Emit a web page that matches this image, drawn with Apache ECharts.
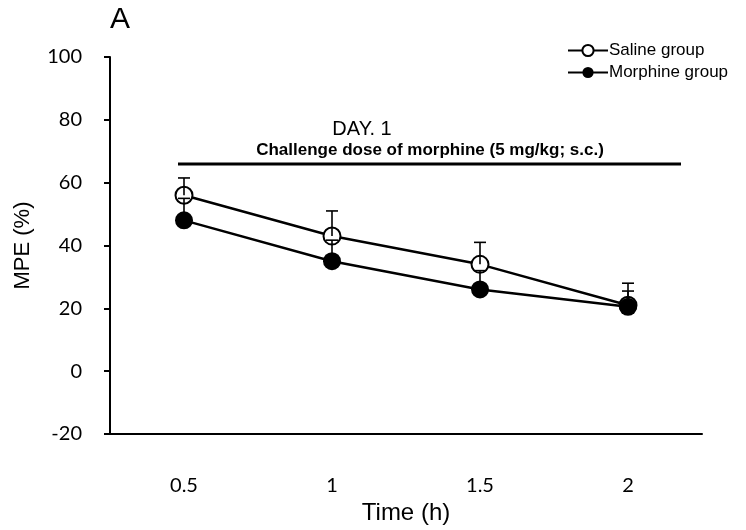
<!DOCTYPE html>
<html><head><meta charset="utf-8">
<script src="https://cdn.jsdelivr.net/npm/echarts@6/dist/echarts.min.js"></script>
<style>html,body{margin:0;padding:0;background:#fff}#c{width:746px;height:530px}</style>
</head><body><div id="c"></div>
<script>
var categories = ['0.5', '1', '1.5', '2'];
var salineMean = [56, 43, 34, 21];
var salineSE = [5.5, 8, 7, 7];
var morphineMean = [48, 35, 26, 20.5];
var morphineSE = [7, 6.7, 6, 5];
var yTicks = [-20, 0, 20, 40, 60, 80, 100];

var chart = echarts.init(document.getElementById('c'));
function errData(mean, se) { return mean.map(function (m, i) { return [i, m, m + se[i]]; }); }
function errRender(params, api) {
  var i = api.value(0);
  var p0 = api.coord([i, api.value(1)]);
  var p1 = api.coord([i, api.value(2)]);
  var hw = 6;
  return { type: 'group', children: [
    { type: 'line', shape: { x1: p0[0], y1: p0[1], x2: p1[0], y2: p1[1] }, style: { stroke: '#000', lineWidth: 1.6 } },
    { type: 'line', shape: { x1: p1[0] - hw, y1: p1[1], x2: p1[0] + hw, y2: p1[1] }, style: { stroke: '#000', lineWidth: 1.6 } }
  ] };
}
var option = {
  animation: false,
  backgroundColor: '#fff',
  grid: { left: 110, width: 592, top: 57, height: 377 },
  legend: {
    orient: 'vertical', left: 562, top: 37, itemGap: 5, itemWidth: 40, itemHeight: 14,
    data: ['Saline group', 'Morphine group'],
    textStyle: { fontFamily: 'Liberation Sans', fontSize: 17, color: '#000', padding: [0, 0, 0, -4] }
  },
  xAxis: {
    type: 'category', data: categories, boundaryGap: true,
    axisLine: { onZero: false, lineStyle: { color: '#000', width: 2 } },
    axisTick: { alignWithLabel: true, length: 6, lineStyle: { color: '#000', width: 2 } },
    axisLabel: { fontFamily: 'Lato', fontSize: 20, color: '#000', margin: 42 },
    name: 'Time (h)', nameLocation: 'middle', nameGap: 66,
    nameTextStyle: { fontFamily: 'Liberation Sans', fontSize: 24, color: '#000' }
  },
  yAxis: {
    type: 'value', min: -20, max: 100, interval: 20,
    axisLine: { show: true, lineStyle: { color: '#000', width: 2 } },
    axisTick: { show: true, length: 6, lineStyle: { color: '#000', width: 2 } },
    splitLine: { show: false },
    axisLabel: { fontFamily: 'Lato', fontSize: 20, color: '#000', margin: 28 },
    name: 'MPE (%)', nameLocation: 'middle', nameGap: 76, nameRotate: 90,
    nameTextStyle: { fontFamily: 'Liberation Sans', fontSize: 22, color: '#000' }
  },
  graphic: [
    { type: 'text', left: 110, top: 5, style: { text: 'A', font: '30px "Liberation Sans"', fill: '#000' } },
    { type: 'text', x: 362, y: 129, style: { text: 'DAY. 1', font: '20px "Liberation Sans"', fill: '#000', textAlign: 'center', textVerticalAlign: 'middle' } },
    { type: 'text', x: 430, y: 150, style: { text: 'Challenge dose of morphine (5 mg/kg; s.c.)', font: 'bold 17px "Liberation Sans"', fill: '#000', textAlign: 'center', textVerticalAlign: 'middle' } },
    { type: 'line', shape: { x1: 178, y1: 164, x2: 681, y2: 164 }, style: { stroke: '#000', lineWidth: 3 } }
  ],
  series: [
    { name: 'Saline group', type: 'line', data: salineMean, symbol: 'emptyCircle', symbolSize: 17,
      lineStyle: { color: '#000', width: 2.5 }, itemStyle: { color: '#000', borderWidth: 1.5 }, z: 3 },
    { name: 'Morphine group', type: 'line', data: morphineMean, symbol: 'circle', symbolSize: 18,
      lineStyle: { color: '#000', width: 2.5 }, itemStyle: { color: '#000' }, z: 3 },
    { type: 'custom', data: errData(salineMean, salineSE), renderItem: errRender, z: 5, silent: true },
    { type: 'custom', data: errData(morphineMean, morphineSE), renderItem: errRender, z: 5, silent: true }
  ]
};
chart.setOption(option);
</script></body></html>
